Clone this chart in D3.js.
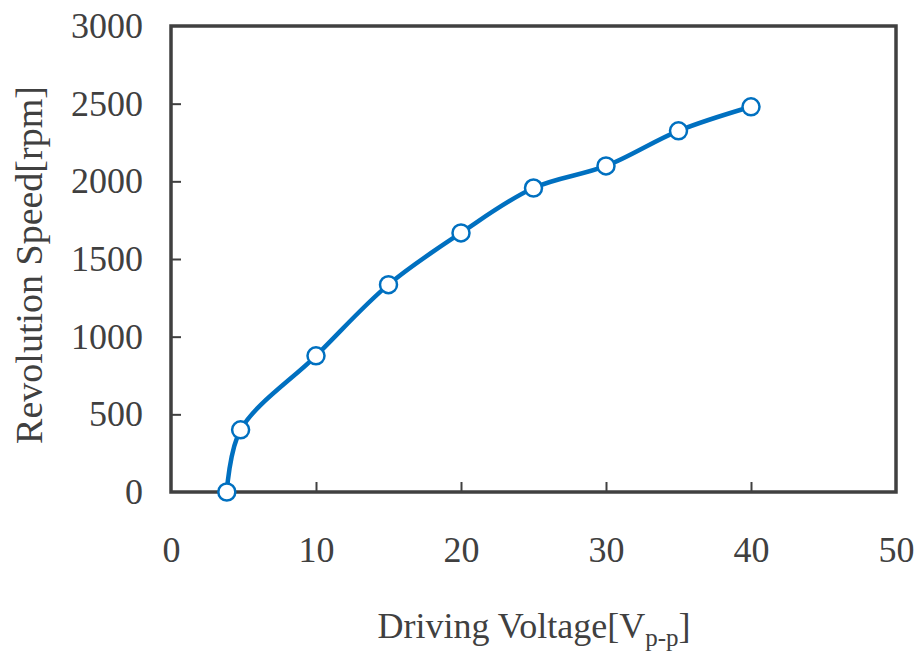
<!DOCTYPE html>
<html><head><meta charset="utf-8">
<script src="https://cdn.jsdelivr.net/npm/d3@7"></script>
<style>body{margin:0;background:#fff}svg{display:block}</style>
</head><body>
<script>
const voltage = [3.85, 4.8, 10, 15, 20, 25, 30, 35, 40];
const speed = [0, 400, 877, 1335, 1668, 1957, 2099, 2325, 2480];
const xTicks = [0, 10, 20, 30, 40, 50];
const yTicks = [0, 500, 1000, 1500, 2000, 2500, 3000];

const W = 921, H = 655;
const m = {left: 171, right: 25, top: 26, bottom: 163};
const svg = d3.select("body").append("svg").attr("width", W).attr("height", H);
const x = d3.scaleLinear().domain([0, 50]).range([m.left, W - m.right]);
const y = d3.scaleLinear().domain([0, 3000]).range([H - m.bottom, m.top]);
const ink = "#404040";
const font = "'Liberation Serif','Times New Roman',serif";

const gx = svg.append("g").attr("transform", `translate(0,${y(0)})`)
  .call(d3.axisBottom(x).tickValues(xTicks).tickSize(-10).tickPadding(44).tickFormat(d3.format("d")));
const gy = svg.append("g").attr("transform", `translate(${x(0)},0)`)
  .call(d3.axisLeft(y).tickValues(yTicks).tickSize(-10).tickPadding(28).tickFormat(d3.format("d")));
[gx, gy].forEach(g => {
  g.select(".domain").remove();
  g.selectAll(".tick line").attr("stroke", ink).attr("stroke-width", 2);
  g.selectAll(".tick text").attr("fill", ink).style("font-family", font).style("font-size", "36px");
});
gx.selectAll(".tick").filter(d => d === 0 || d === 50).select("line").remove();
gy.selectAll(".tick").filter(d => d === 0 || d === 3000).select("line").remove();

svg.append("rect").attr("x", x(0)).attr("y", y(3000))
  .attr("width", x(50) - x(0)).attr("height", y(0) - y(3000))
  .attr("fill", "none").attr("stroke", ink).attr("stroke-width", 3.5);

const pts = voltage.map((v, i) => [v, speed[i]]);
svg.append("path").datum(pts)
  .attr("d", d3.line().x(d => x(d[0])).y(d => y(d[1])).curve(d3.curveCatmullRom.alpha(0.5)))
  .attr("fill", "none").attr("stroke", "#0070C0").attr("stroke-width", 4.5);
svg.selectAll("circle.pt").data(pts).enter().append("circle").attr("class", "pt")
  .attr("cx", d => x(d[0])).attr("cy", d => y(d[1])).attr("r", 8.5)
  .attr("fill", "#fff").attr("stroke", "#0070C0").attr("stroke-width", 2.5);

const xt = svg.append("text").attr("x", 534).attr("y", 638).attr("text-anchor", "middle")
  .attr("fill", ink).style("font-family", font).style("font-size", "36px");
xt.append("tspan").text("Driving Voltage[V");
xt.append("tspan").attr("dy", 8).style("font-size", "25px").text("p-p");
xt.append("tspan").attr("dy", -8).text("]");
svg.append("text").attr("transform", `translate(42,${(y(0)+y(3000))/2 + 6}) rotate(-90)`)
  .attr("text-anchor", "middle").attr("fill", ink).style("font-family", font).style("font-size", "38px")
  .text("Revolution Speed[rpm]");
</script>
</body></html>
